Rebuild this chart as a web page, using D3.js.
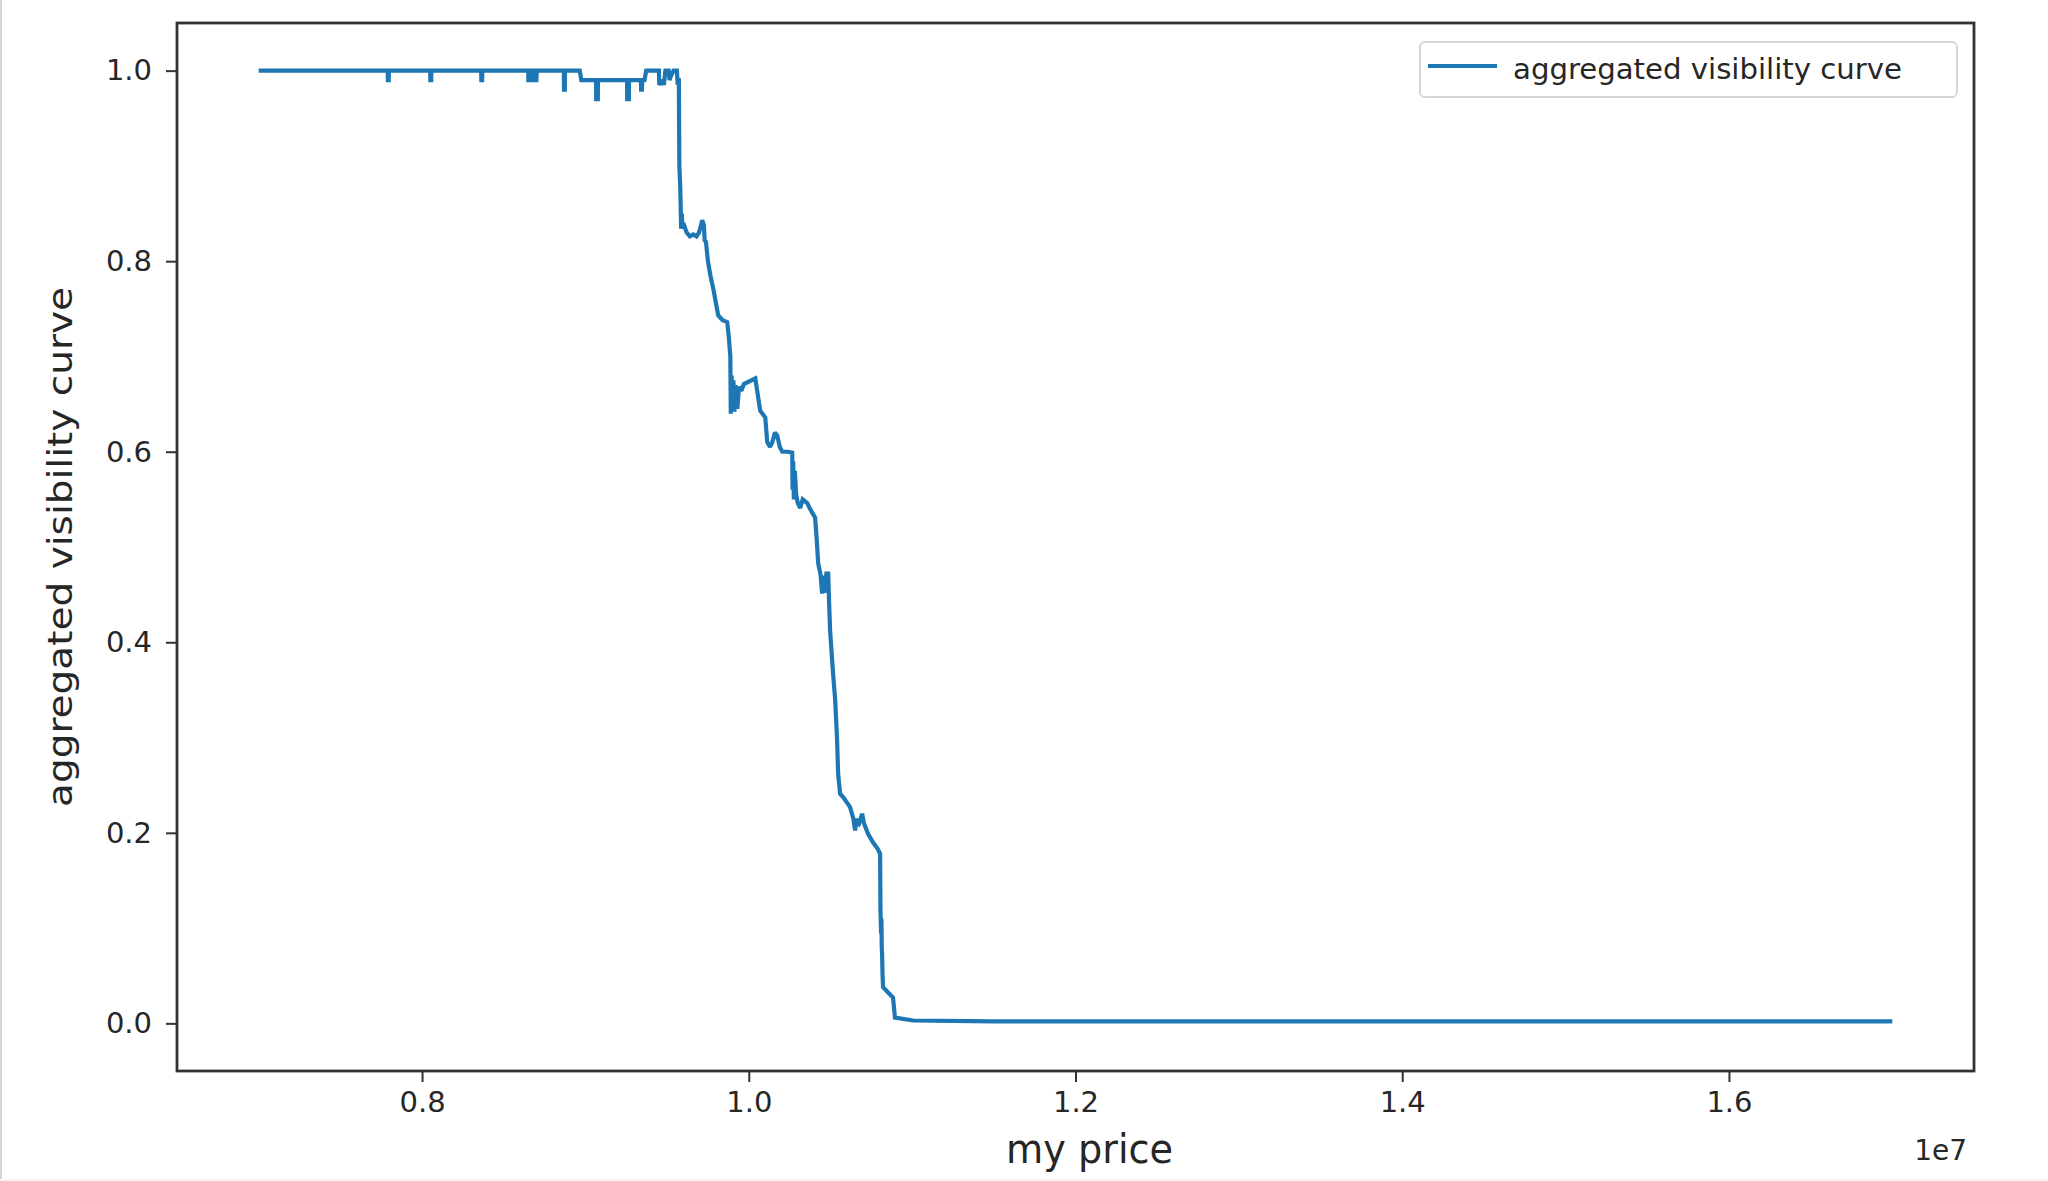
<!DOCTYPE html>
<html>
<head>
<meta charset="utf-8">
<script src="https://cdn.jsdelivr.net/npm/d3@7"></script>
<style>
  html, body { margin: 0; padding: 0; background: #fff; }
  svg { display: block; }
</style>
</head>
<body>
<svg id="chart" width="2048" height="1181"></svg>
<script>
(function() {
    'use strict';

    // price in units of 1e7
    var price = [
        0.7000, 0.7790, 0.7791, 0.7796, 0.7797,
        0.8050, 0.8051, 0.8056, 0.8057,
        0.8362, 0.8363, 0.8368, 0.8369,
        0.8650, 0.8651, 0.8656, 0.8658, 0.8668, 0.8669, 0.8675, 0.8677, 0.8690, 0.8691, 0.8700, 0.8702,
        0.8868, 0.8869, 0.8874, 0.8875,
        0.8965, 0.8975,
        0.9065, 0.9066, 0.9076, 0.9077,
        0.9255, 0.9256, 0.9266, 0.9267,
        0.9340, 0.9341, 0.9346, 0.9347,
        0.9362, 0.9372,
        0.9450, 0.9452, 0.9470, 0.9480, 0.9490, 0.9510, 0.9515, 0.9525, 0.9540, 0.9560, 0.9565, 0.9570,
        0.9572, 0.9575, 0.9580, 0.9583, 0.9586, 0.9590, 0.9594, 0.9600, 0.9620, 0.9640, 0.9660, 0.9680,
        0.9695, 0.9705, 0.9715, 0.9725, 0.9730, 0.9738, 0.9750, 0.9765, 0.9783, 0.9800, 0.9813, 0.9840,
        0.9868, 0.9878, 0.9887, 0.9890, 0.9895, 0.9900, 0.9906, 0.9912, 0.9920, 0.9930, 0.9940, 0.9955,
        0.9970, 1.0040, 1.0055, 1.0070, 1.0101, 1.0113, 1.0130, 1.0144, 1.0160, 1.0174, 1.0190, 1.0205,
        1.0240, 1.0266, 1.0268, 1.0272, 1.0276, 1.0282, 1.0290, 1.0300, 1.0315, 1.0330, 1.0358, 1.0375,
        1.0388, 1.0406, 1.0415, 1.0425, 1.0440, 1.0449, 1.0455, 1.0465, 1.0475, 1.0486, 1.0492, 1.0498,
        1.0516, 1.0529, 1.0540, 1.0547, 1.0559, 1.0580, 1.0600, 1.0620, 1.0640, 1.0651, 1.0660, 1.0670,
        1.0694, 1.0705, 1.0730, 1.0760, 1.0790, 1.0804, 1.0806, 1.0810, 1.0812, 1.0814, 1.0816, 1.0819,
        1.0822, 1.0850, 1.0883, 1.0895, 1.1006, 1.1500, 1.7000
    ];

    var visibility = [
        1.000, 1.000, 0.990, 0.990, 1.000,
        1.000, 0.990, 0.990, 1.000,
        1.000, 0.990, 0.990, 1.000,
        1.000, 0.990, 0.990, 1.000, 1.000, 0.990, 0.990, 1.000, 1.000, 0.990, 0.990, 1.000,
        1.000, 0.980, 0.980, 1.000,
        1.000, 0.990,
        0.990, 0.970, 0.970, 0.990,
        0.990, 0.970, 0.970, 0.990,
        0.990, 0.980, 0.980, 0.990,
        0.990, 1.000,
        1.000, 0.985, 0.990, 0.985, 1.000, 1.000, 0.990, 0.995, 1.000, 1.000, 0.985, 0.990,
        0.990, 0.900, 0.880, 0.860, 0.834, 0.850, 0.836, 0.840, 0.830, 0.826, 0.828, 0.826,
        0.830, 0.836, 0.843, 0.838, 0.822, 0.820, 0.800, 0.785, 0.771, 0.755, 0.743, 0.738,
        0.736, 0.720, 0.700, 0.640, 0.680, 0.645, 0.675, 0.642, 0.670, 0.645, 0.668, 0.664,
        0.671, 0.677, 0.660, 0.643, 0.636, 0.610, 0.605, 0.610, 0.620, 0.617, 0.605, 0.600,
        0.600, 0.599, 0.560, 0.590, 0.550, 0.580, 0.555, 0.546, 0.541, 0.550, 0.546, 0.540,
        0.536, 0.531, 0.510, 0.483, 0.470, 0.451, 0.470, 0.452, 0.472, 0.472, 0.440, 0.412,
        0.367, 0.339, 0.300, 0.262, 0.241, 0.237, 0.232, 0.227, 0.215, 0.2025, 0.215, 0.207,
        0.220, 0.210, 0.199, 0.190, 0.183, 0.178, 0.120, 0.094, 0.110, 0.080, 0.073, 0.050,
        0.038, 0.033, 0.027, 0.006, 0.003, 0.002, 0.002
    ];

    var xTicks = [0.8e7, 1.0e7, 1.2e7, 1.4e7, 1.6e7];
    var yTicks = [0.0, 0.2, 0.4, 0.6, 0.8, 1.0];

    var seriesName = 'aggregated visibility curve';
    var xLabel = 'my price';
    var yLabel = 'aggregated visibility curve';
    var offsetLabel = '1e7';

    var points = price.map(function(p, i) {
        return { x: p * 1e7, y: visibility[i] };
    });

    var left = 177, right = 1974, top = 23, bottom = 1071;
    var textColor = '#262626';
    var lineColor = '#1f77b4';

    var svg = d3.select('#chart');

    // soft look of the upscaled screenshot (user space so flat lines keep their region)
    svg.append('defs').append('filter')
        .attr('id', 'soft')
        .attr('filterUnits', 'userSpaceOnUse')
        .attr('x', 0).attr('y', 0)
        .attr('width', 2048).attr('height', 1181)
        .append('feGaussianBlur')
        .attr('stdDeviation', 0.6);

    // faint edge of the screenshot
    svg.append('line')
        .attr('x1', 1).attr('y1', 0).attr('x2', 1).attr('y2', 1181)
        .style('stroke', '#d4d4d4').style('stroke-width', 2);
    svg.append('line')
        .attr('x1', 0).attr('y1', 1180).attr('x2', 2048).attr('y2', 1180)
        .style('stroke', '#fbf3ea').style('stroke-width', 2);

    var x = d3.scaleLinear().domain([0.65e7, 1.75e7]).range([left, right]);
    var y = d3.scaleLinear().domain([-0.05, 1.05]).range([bottom, top]);

    var xAxis = d3.axisBottom(x)
        .tickValues(xTicks)
        .tickSize(11)
        .tickSizeOuter(0)
        .tickPadding(9)
        .tickFormat(function(d) { return (d / 1e7).toFixed(1); });

    var yAxis = d3.axisLeft(y)
        .tickValues(yTicks)
        .tickSize(11)
        .tickSizeOuter(0)
        .tickPadding(14)
        .tickFormat(function(d) { return d.toFixed(1); });

    var gx = svg.append('g')
        .attr('transform', 'translate(0,' + bottom + ')')
        .call(xAxis);
    var gy = svg.append('g')
        .attr('transform', 'translate(' + left + ',0)')
        .call(yAxis);

    [gx, gy].forEach(function(g) {
        g.select('.domain').remove();
        g.selectAll('.tick line').style('stroke', '#333').style('stroke-width', 2);
        g.selectAll('.tick text')
            .style('font-family', '"DejaVu Sans", sans-serif')
            .style('font-size', '29px')
            .style('fill', textColor);
    });

    // the curve
    var line = d3.line()
        .x(function(d) { return x(d.x); })
        .y(function(d) { return y(d.y); });

    svg.append('path')
        .datum(points)
        .attr('d', line)
        .attr('filter', 'url(#soft)')
        .style('fill', 'none')
        .style('stroke', lineColor)
        .style('stroke-width', 4.2)
        .style('stroke-linejoin', 'miter')
        .style('stroke-miterlimit', 2);

    // axes frame
    svg.append('rect')
        .attr('x', left).attr('y', top)
        .attr('width', right - left).attr('height', bottom - top)
        .style('fill', 'none')
        .style('stroke', '#333')
        .style('stroke-width', 2.8);

    // labels
    svg.append('text')
        .attr('x', 1006).attr('y', 1163)
        .attr('textLength', 167)
        .attr('lengthAdjust', 'spacingAndGlyphs')
        .style('font-family', '"DejaVu Sans", sans-serif')
        .style('font-size', '40px')
        .style('fill', textColor)
        .text(xLabel);

    svg.append('text')
        .attr('transform', 'translate(72,' + ((top + bottom) / 2) + ') rotate(-90)')
        .attr('text-anchor', 'middle')
        .attr('textLength', 520)
        .attr('lengthAdjust', 'spacingAndGlyphs')
        .style('font-family', '"DejaVu Sans", sans-serif')
        .style('font-size', '33px')
        .style('fill', textColor)
        .text(yLabel);

    svg.append('text')
        .attr('x', 1967).attr('y', 1160)
        .attr('text-anchor', 'end')
        .style('font-family', '"DejaVu Sans", sans-serif')
        .style('font-size', '28px')
        .style('fill', textColor)
        .text(offsetLabel);

    // legend
    var legend = svg.append('g');
    legend.append('rect')
        .attr('x', 1420).attr('y', 42)
        .attr('width', 537).attr('height', 55)
        .attr('rx', 5)
        .style('fill', '#fff')
        .style('fill-opacity', 0.8)
        .style('stroke', '#d6d6d6')
        .style('stroke-width', 2);
    legend.append('line')
        .attr('x1', 1428).attr('x2', 1497)
        .attr('y1', 66).attr('y2', 66)
        .attr('filter', 'url(#soft)')
        .style('stroke', lineColor)
        .style('stroke-width', 4.2);
    legend.append('text')
        .attr('x', 1513).attr('y', 79)
        .attr('textLength', 389)
        .attr('lengthAdjust', 'spacingAndGlyphs')
        .style('font-family', '"DejaVu Sans", sans-serif')
        .style('font-size', '28px')
        .style('fill', textColor)
        .text(seriesName);
})();
</script>
</body>
</html>
